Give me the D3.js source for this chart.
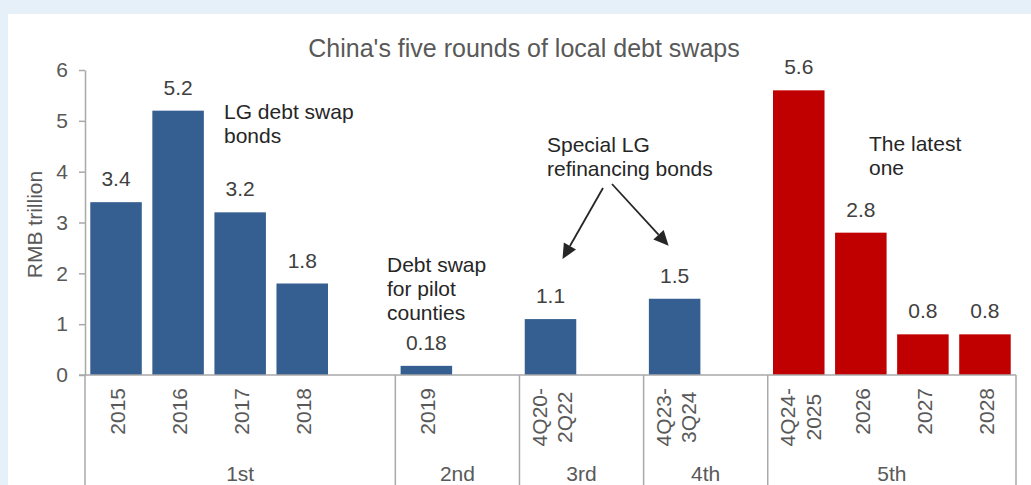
<!DOCTYPE html>
<html>
<head>
<meta charset="utf-8">
<script src="https://cdn.jsdelivr.net/npm/d3@7"></script>
<style>
  html, body { margin: 0; padding: 0; background: #e5f0f8; }
  svg { display: block; }
  text { font-family: "Liberation Sans", Arial, sans-serif; }
</style>
</head>
<body>
<svg id="chart" width="1031" height="485"></svg>
<script>
// Swap rounds and the issuance periods that belong to each of them
const rounds = ["1st", "2nd", "3rd", "4th", "5th"];
const periods = ["2015", "2016", "2017", "2018", "2019", "4Q20-2Q22", "4Q23-3Q24", "4Q24-2025", "2026", "2027", "2028"];
const periodRound = [0, 0, 0, 0, 1, 2, 3, 4, 4, 4, 4];
// Swap bond amounts, RMB trillion
const swapAmounts = [3.4, 5.2, 3.2, 1.8, 0.18, 1.1, 1.5, 5.6, 2.8, 0.8, 0.8];
const yTicks = [0, 1, 2, 3, 4, 5, 6];
const roundColors = ["#365f91", "#365f91", "#365f91", "#365f91", "#c00000"];

const svg = d3.select("#chart");
const W = 1031, H = 485;
const plot = { left: 85, right: 1016, top: 70, bottom: 375 };
const axisColor = "#a9a9a9";

// white chart panel
svg.append("rect").attr("x", 8).attr("y", 14).attr("width", W - 8).attr("height", H - 14).attr("fill", "#ffffff");

// one slot per period, plus an empty spacer slot closing every round but the last
const slots = [];
rounds.forEach((r, ri) => {
  periods.forEach((p, i) => {
    if (periodRound[i] === ri) slots.push({ key: "p" + i, label: p, value: swapAmounts[i], round: ri });
  });
  if (ri < rounds.length - 1) slots.push({ key: "gap" + ri, label: null, value: null, round: ri });
});

const x = d3.scaleBand()
  .domain(slots.map(d => d.key))
  .range([plot.left, plot.right])
  .paddingInner(0.17)
  .paddingOuter(0.085);
const halfGap = (x.step() - x.bandwidth()) / 2;

const y = d3.scaleLinear().domain([0, 6]).range([plot.bottom, plot.top]);

// title
svg.append("text")
  .attr("x", 524).attr("y", 57)
  .attr("text-anchor", "middle")
  .attr("font-size", 25).attr("fill", "#595959")
  .text("China's five rounds of local debt swaps");

// y axis
const yAxis = svg.append("g")
  .attr("transform", `translate(${plot.left},0)`)
  .call(d3.axisLeft(y).tickValues(yTicks).tickSize(6).tickSizeOuter(0).tickPadding(11).tickFormat(d3.format("d")));
yAxis.select(".domain").attr("stroke", axisColor).attr("stroke-width", 1.5);
yAxis.selectAll(".tick line").attr("stroke", axisColor).attr("stroke-width", 1.5);
yAxis.selectAll(".tick text").attr("font-size", 21).attr("fill", "#595959")
  .attr("font-family", "'Liberation Sans', Arial, sans-serif");

svg.append("text")
  .attr("transform", `translate(42,${(plot.top + plot.bottom) / 2 + 2}) rotate(-90)`)
  .attr("text-anchor", "middle")
  .attr("font-size", 21).attr("fill", "#595959")
  .text("RMB trillion");

// bars
const bars = slots.filter(d => d.value !== null);
svg.append("g").selectAll("rect").data(bars).join("rect")
  .attr("x", d => x(d.key))
  .attr("width", x.bandwidth())
  .attr("y", d => y(d.value))
  .attr("height", d => y(0) - y(d.value))
  .attr("fill", d => roundColors[d.round]);

// value labels
svg.append("g").selectAll("text").data(bars).join("text")
  .attr("x", d => x(d.key) + x.bandwidth() / 2)
  .attr("y", d => y(d.value) - 16)
  .attr("text-anchor", "middle")
  .attr("font-size", 21).attr("fill", "#404040")
  .text(d => String(d.value));

// x axis baseline
svg.append("line")
  .attr("x1", plot.left - 6).attr("x2", plot.right)
  .attr("y1", y(0)).attr("y2", y(0))
  .attr("stroke", axisColor).attr("stroke-width", 1.5);

// round boundaries and round labels
const roundSpans = rounds.map((r, ri) => {
  const s = slots.filter(d => d.round === ri);
  return {
    name: r,
    x0: x(s[0].key) - halfGap,
    x1: x(s[s.length - 1].key) + x.bandwidth() + halfGap
  };
});
const bounds = roundSpans.map(d => d.x0).concat([roundSpans[roundSpans.length - 1].x1]);
svg.append("g").selectAll("line").data(bounds).join("line")
  .attr("x1", d => d).attr("x2", d => d)
  .attr("y1", y(0)).attr("y2", H)
  .attr("stroke", axisColor).attr("stroke-width", 1.5);

svg.append("g").selectAll("text").data(roundSpans).join("text")
  .attr("x", d => (d.x0 + d.x1) / 2)
  .attr("y", 481)
  .attr("text-anchor", "middle")
  .attr("font-size", 21).attr("fill", "#595959")
  .text(d => d.name);

// rotated period labels, ranges broken after the hyphen
const lineStep = 25.5;
const catG = svg.append("g");
slots.filter(d => d.label).forEach(d => {
  const lines = d.label.includes("-") ? d.label.replace("-", "-\n").split("\n") : [d.label];
  const cx = x(d.key) + x.bandwidth() / 2;
  const g = catG.append("g").attr("transform", `translate(${cx},388) rotate(-90)`);
  const texts = lines.map((ln, i) => g.append("text")
    .attr("y", 9 + (i - (lines.length - 1) / 2) * lineStep)
    .attr("text-anchor", "middle")
    .attr("font-size", 21).attr("fill", "#595959")
    .text(ln));
  const maxLen = d3.max(texts, t => t.node().getComputedTextLength());
  texts.forEach(t => t.attr("x", -maxLen / 2));
});

// annotations
const notes = [
  { lines: ["LG debt swap", "bonds"], x: 224, y: 119 },
  { lines: ["Debt swap", "for pilot", "counties"], x: 387, y: 272 },
  { lines: ["Special LG", "refinancing bonds"], x: 547, y: 152 },
  { lines: ["The latest", "one"], x: 869, y: 151 }
];
notes.forEach(n => {
  const t = svg.append("text").attr("font-size", 21).attr("fill", "#262626");
  n.lines.forEach((ln, i) => t.append("tspan").attr("x", n.x).attr("y", n.y + i * 24).text(ln));
});

// arrows from the refinancing note down to the 3rd and 4th round bars
function arrow(x0, y0, x1, y1) {
  const ang = Math.atan2(y1 - y0, x1 - x0);
  const len = 15, half = 7;
  const bx = x1 - len * Math.cos(ang), by = y1 - len * Math.sin(ang);
  svg.append("line")
    .attr("x1", x0).attr("y1", y0).attr("x2", bx).attr("y2", by)
    .attr("stroke", "#262626").attr("stroke-width", 1.8);
  const px = -Math.sin(ang) * half, py = Math.cos(ang) * half;
  svg.append("path")
    .attr("d", `M${x1},${y1}L${bx + px},${by + py}L${bx - px},${by - py}Z`)
    .attr("fill", "#262626");
}
const c3 = x("p5") + x.bandwidth() / 2;
const c4 = x("p6") + x.bandwidth() / 2;
arrow(603, 188, c3 + 12, y(swapAmounts[5]) - 60);
arrow(612, 184, c4 - 6, y(swapAmounts[6]) - 53);
</script>
</body>
</html>
